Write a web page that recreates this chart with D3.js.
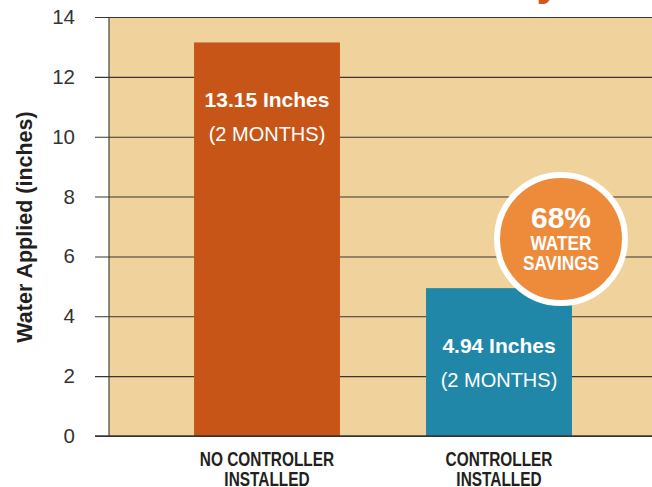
<!DOCTYPE html>
<html lang="en">
<head>
<meta charset="UTF-8">
<title>Water Applied</title>
<style>
  body { margin: 0; background: #fff; }
  svg { display: block; }
  .tick text { font-family: "Liberation Sans", Arial, sans-serif; }
</style>
</head>
<body>
<svg id="chart" width="652" height="487"></svg>
<script src="https://cdnjs.cloudflare.com/ajax/libs/d3/7.8.5/d3.min.js"></script>
<script>
// chart values
let categories = [["NO CONTROLLER", "INSTALLED"], ["CONTROLLER", "INSTALLED"]];
let values = [13.15, 4.94];
let valueLabels = ["13.15 Inches", "4.94 Inches"];
let periodLabels = ["(2 MONTHS)", "(2 MONTHS)"];
let yTicks = [0, 2, 4, 6, 8, 10, 12, 14];
let savingsText = ["68%", "WATER", "SAVINGS"];
let barColors = ["#C75518", "#2187A8"];

let width = 652, height = 487;
let margin = {top: 17, right: 0, bottom: 51, left: 109};
let sans = '"Liberation Sans", Arial, sans-serif';

let svg = d3.select("#chart");

let y = d3.scaleLinear()
  .domain([0, 14])
  .range([height - margin.bottom, margin.top]);

let x = d3.scaleBand()
  .domain(d3.range(values.length))
  .range([151, 615])
  .paddingInner(0.371)
  .paddingOuter(0.1855);

// plot background
svg.append("rect")
  .attr("x", margin.left)
  .attr("y", y(14))
  .attr("width", width - margin.left)
  .attr("height", y(0) - y(14))
  .attr("fill", "#F0D29C");

// title, cut off at the very top (only a descender shows)
svg.append("text")
  .attr("x", 561)
  .attr("y", -5)
  .attr("text-anchor", "end")
  .attr("fill", "#D0581C")
  .attr("font-family", sans)
  .attr("font-weight", "bold")
  .attr("font-size", 44)
  .text("Study");

// y axis with gridlines
let yAxis = svg.append("g")
  .attr("transform", `translate(${margin.left},0)`)
  .call(d3.axisLeft(y)
    .tickValues(yTicks)
    .tickSize(-(width - margin.left))
    .tickPadding(34));
yAxis.select(".domain").remove();
yAxis.selectAll(".tick line")
  .attr("x1", -14)
  .attr("stroke", "#3a3530")
  .attr("stroke-width", 1.1);
yAxis.selectAll(".tick text")
  .attr("font-size", 20.5)
  .attr("fill", "#333");

// left axis line
svg.append("line")
  .attr("x1", margin.left).attr("x2", margin.left)
  .attr("y1", y(14)).attr("y2", y(0))
  .attr("stroke", "#3a3530")
  .attr("stroke-width", 1.1);

// bars
svg.selectAll(".bar")
  .data(values)
  .enter()
  .append("rect")
  .attr("class", "bar")
  .attr("x", (d, i) => x(i))
  .attr("y", d => y(d))
  .attr("width", x.bandwidth())
  .attr("height", d => y(0) - y(d))
  .attr("fill", (d, i) => barColors[i]);

// baseline over bars
svg.append("line")
  .attr("x1", margin.left - 14).attr("x2", width)
  .attr("y1", y(0)).attr("y2", y(0))
  .attr("stroke", "#3a3530")
  .attr("stroke-width", 1.3);

// labels inside bars
svg.selectAll(".val")
  .data(values)
  .enter()
  .append("text")
  .attr("class", "val")
  .attr("x", (d, i) => x(i) + x.bandwidth() / 2)
  .attr("y", d => y(d) + 65)
  .attr("text-anchor", "middle")
  .attr("fill", "#fff")
  .attr("font-family", sans)
  .attr("font-weight", "bold")
  .attr("font-size", 21)
  .text((d, i) => valueLabels[i]);

svg.selectAll(".period")
  .data(values)
  .enter()
  .append("text")
  .attr("class", "period")
  .attr("x", (d, i) => x(i) + x.bandwidth() / 2)
  .attr("y", d => y(d) + 99)
  .attr("text-anchor", "middle")
  .attr("fill", "#fff")
  .attr("font-family", sans)
  .attr("font-size", 20)
  .text((d, i) => periodLabels[i]);

// category labels (condensed by horizontal scale)
let cat = svg.selectAll(".cat")
  .data(categories)
  .enter()
  .append("g")
  .attr("class", "cat")
  .attr("transform", (d, i) => `translate(${x(i) + x.bandwidth() / 2},0) scale(0.79,1)`);
cat.selectAll("text")
  .data(d => d)
  .enter()
  .append("text")
  .attr("x", 0)
  .attr("y", (d, j) => 466 + j * 20)
  .attr("text-anchor", "middle")
  .attr("fill", "#231F20")
  .attr("font-family", sans)
  .attr("font-weight", "bold")
  .attr("font-size", 19.5)
  .text(d => d);

// y axis title
svg.append("text")
  .attr("transform", `translate(32,227) rotate(-90)`)
  .attr("text-anchor", "middle")
  .attr("fill", "#231F20")
  .attr("font-family", sans)
  .attr("font-weight", "bold")
  .attr("font-size", 21.5)
  .text("Water Applied (inches)");

// savings badge
let badge = svg.append("g").attr("transform", "translate(561,239)");
badge.append("circle")
  .attr("r", 64)
  .attr("fill", "#EE8B3A")
  .attr("stroke", "#fff")
  .attr("stroke-width", 6);
badge.append("text")
  .attr("y", -11)
  .attr("text-anchor", "middle")
  .attr("fill", "#fff")
  .attr("font-family", sans)
  .attr("font-weight", "bold")
  .attr("font-size", 30)
  .text(savingsText[0]);
badge.append("g")
  .attr("transform", "scale(0.82,1)")
  .selectAll("text")
  .data(savingsText.slice(1))
  .enter()
  .append("text")
  .attr("y", (d, i) => 11 + i * 20)
  .attr("text-anchor", "middle")
  .attr("fill", "#fff")
  .attr("font-family", sans)
  .attr("font-weight", "bold")
  .attr("font-size", 21)
  .text(d => d);
</script>
</body>
</html>
